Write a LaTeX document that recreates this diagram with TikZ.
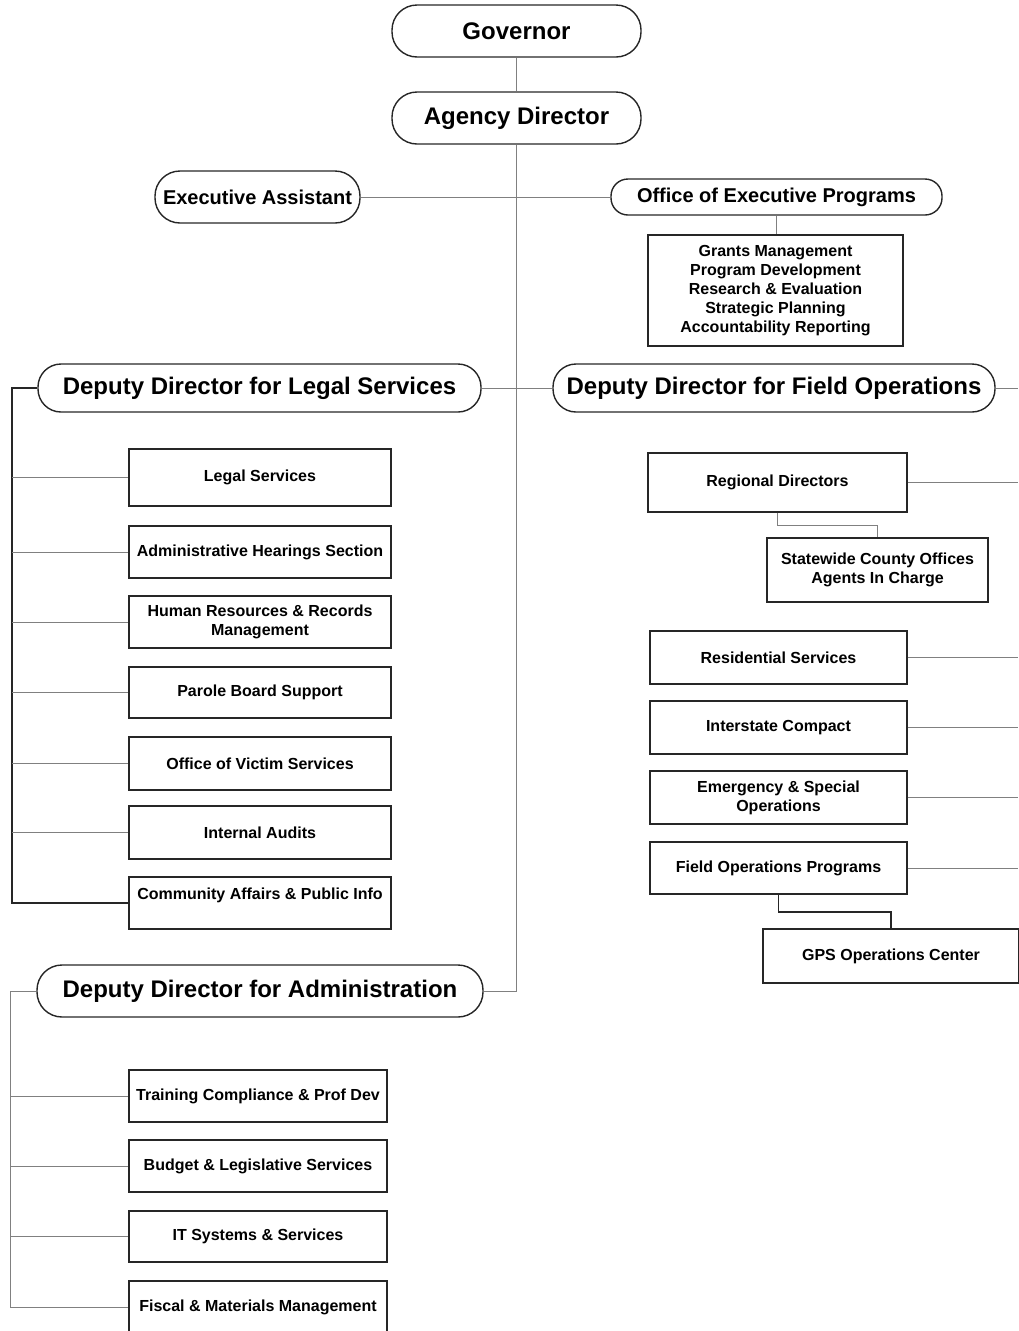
\documentclass[tikz,border=0pt]{standalone}
\usepackage{fontspec}
\setmainfont{Liberation Sans}

\begin{document}
\begin{tikzpicture}[
    x=1pt, y=-1pt,              % Pixelraster der Vorlage
    head/.style={draw=black!85, line width=1.4pt, rounded corners=25pt, minimum height=52pt, inner sep=0pt, font=\bfseries\fontsize{24}{28}\selectfont},
    subhead/.style={head, font=\bfseries\fontsize{20}{24}\selectfont},
    unit/.style={draw=black!85, line width=1.4pt, minimum height=52pt, inner sep=2pt, align=center, font=\bfseries\fontsize{16}{19}\selectfont},
    link/.style={draw=gray, line width=1pt},
    bus/.style={draw=black!85, line width=1.6pt}
  ]
  \useasboundingbox (0,0) rectangle (1018,1331);

  % Leitung
  \node[head, minimum width=249pt] (gov)    at (516.5,31)  {Governor};
  \node[head, minimum width=249pt] (agency) at (516.5,118) {Agency Director};

  \node[subhead, minimum width=205pt] (exec) at (257.5,197) {Executive Assistant};
  \node[subhead, minimum width=331pt, minimum height=36pt, rounded corners=17pt] (oep) at (776.5,197) {Office of Executive Programs};
  \node[unit, minimum width=255pt, minimum height=111pt] (oepunits) at (775.5,290.5)
    {Grants Management\\Program Development\\Research \& Evaluation\\Strategic Planning\\Accountability Reporting};

  % Stellvertreter
  \node[head, minimum width=443pt, minimum height=48pt, rounded corners=23pt] (legal) at (259.5,388) {Deputy Director for Legal Services};
  \node[head, minimum width=442pt, minimum height=48pt, rounded corners=23pt] (field) at (774,388)   {Deputy Director for Field Operations};
  \node[head, minimum width=446pt] (admin) at (260,991) {Deputy Director for Administration};

  % Legal Services
  \node[unit, minimum width=262pt, minimum height=57pt] (ls) at (260,477.5) {Legal Services};
  \node[unit, minimum width=262pt] (ahs) at (260,552) {Administrative Hearings Section};
  \node[unit, minimum width=262pt] (hrm) at (260,622) {Human Resources \& Records\\Management};
  \node[unit, minimum width=262pt, minimum height=51pt] (pbs) at (260,692.5) {Parole Board Support};
  \node[unit, minimum width=262pt, minimum height=53pt] (ovs) at (260,763.5) {Office of Victim Services};
  \node[unit, minimum width=262pt, minimum height=53pt] (ia)  at (260,832.5) {Internal Audits};
  \node[unit, minimum width=262pt] (capi) at (260,903) {Community Affairs \& Public Info\\\mbox{}};

  % Field Operations
  \node[unit, minimum width=259pt, minimum height=59pt] (rd) at (777.5,482.5) {Regional Directors};
  \node[unit, minimum width=221pt, minimum height=64pt] (sco) at (877.5,570) {Statewide County Offices\\Agents In Charge};
  \node[unit, minimum width=257pt, minimum height=53pt] (rs)  at (778.5,657.5) {Residential Services};
  \node[unit, minimum width=257pt, minimum height=53pt] (ic)  at (778.5,727.5) {Interstate Compact};
  \node[unit, minimum width=257pt, minimum height=53pt] (eso) at (778.5,797.5) {Emergency \& Special\\Operations};
  \node[unit, minimum width=257pt] (fop) at (778.5,868) {Field Operations Programs};
  \node[unit, minimum width=256pt, minimum height=54pt] (gps) at (891,956) {GPS Operations Center};

  % Administration
  \node[unit, minimum width=258pt] (tcpd) at (258,1096) {Training Compliance \& Prof Dev};
  \node[unit, minimum width=258pt] (bls)  at (258,1166) {Budget \& Legislative Services};
  \node[unit, minimum width=258pt, minimum height=51pt] (its) at (258,1236.5) {IT Systems \& Services};
  \node[unit, minimum width=258pt] (fmm)  at (258,1307) {Fiscal \& Materials Management};

  % Verbindungen
  \draw[link] (gov) -- (agency);
  \draw[link] (agency.south) -- (agency.south |- admin.east) -- (admin.east);
  \draw[link] (exec.east) -- (oep.west);
  \draw[link] (oep.south) -- (oep.south |- oepunits.north);
  \draw[link] (legal.east) -- (field.west);

  \coordinate (lbus) at (12,388);
  \draw[bus] (legal.west) -- (lbus) |- (capi.west);
  \foreach \n in {ls,ahs,hrm,pbs,ovs,ia}
    \draw[link] (lbus |- \n.west) -- (\n.west);

  \coordinate (fbus) at (1018,388);
  \draw[link] (field.east) -- (fbus);
  \foreach \n in {rd,rs,ic,eso,fop}
    \draw[link] (\n.east) -- (fbus |- \n.east);
  \draw[link] (rd.south) -- ++(0,13) -| (sco.north);
  \draw[bus] (fop.south) -- ++(0,17) -| (gps.north);

  \coordinate (abus) at (10,991);
  \draw[link] (admin.west) -- (abus) |- (fmm.west);
  \foreach \n in {tcpd,bls,its}
    \draw[link] (abus |- \n.west) -- (\n.west);

\end{tikzpicture}
\end{document}
